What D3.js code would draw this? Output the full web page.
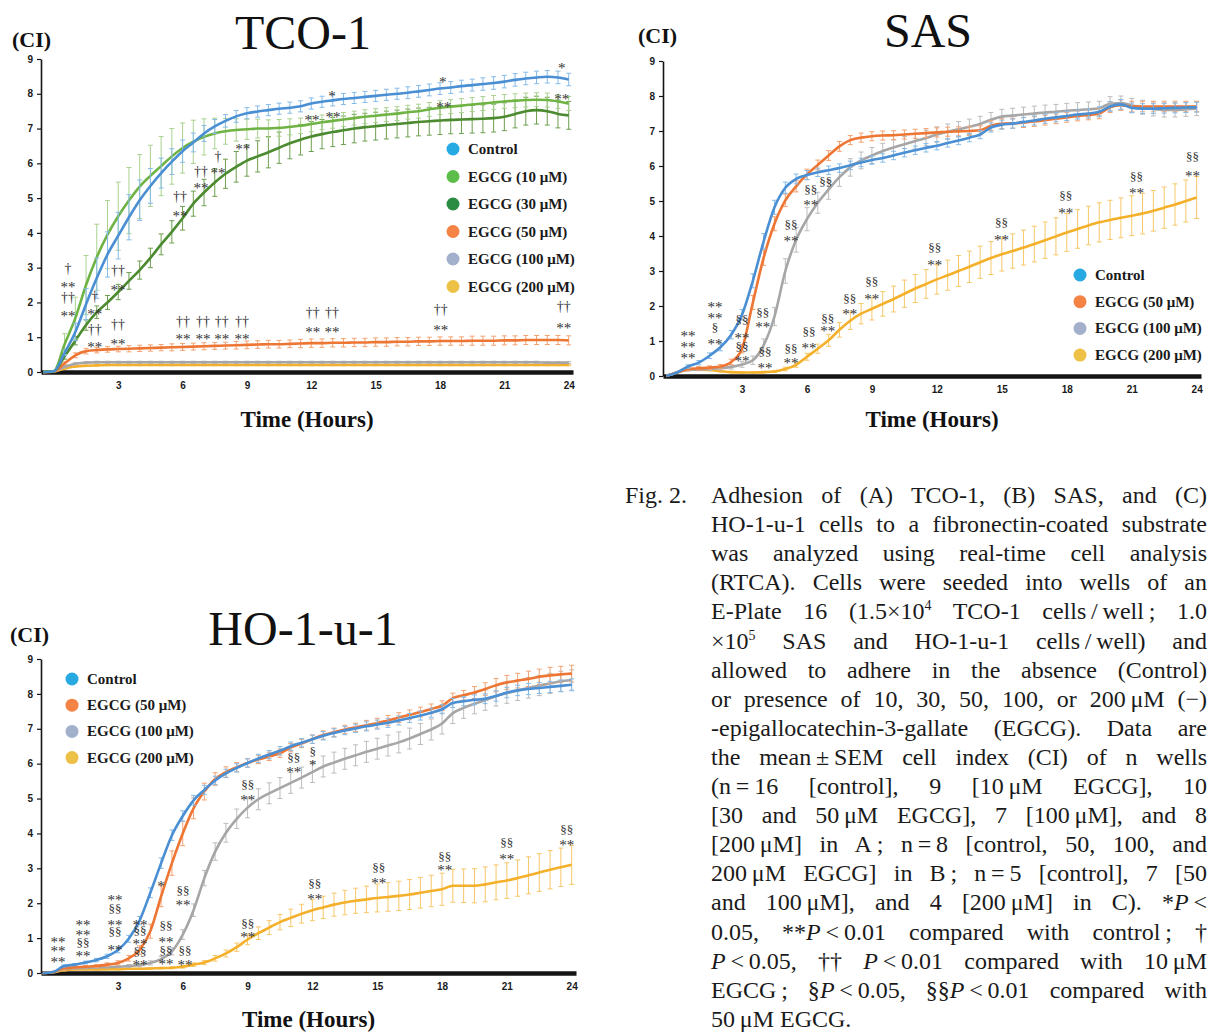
<!DOCTYPE html>
<html>
<head>
<meta charset="utf-8">
<script src="https://cdn.jsdelivr.net/npm/d3@7"></script>
<style>
  body { margin: 0; background: #fff; }
</style>
</head>
<body>
<svg id="fig" width="1212" height="1033"></svg>
<script>
// time points (hours) shared by every RTCA trace
const hours = [-0.5, 0, 0.5, 1, 1.5, 2, 2.5, 3, 3.5, 4,
  4.5, 5, 5.5, 6, 6.5, 7, 7.5, 8, 8.5, 9,
  9.5, 10, 10.5, 11, 11.5, 12, 12.5, 13, 13.5, 14,
  14.5, 15, 15.5, 16, 16.5, 17, 17.5, 18, 18.5, 19,
  19.5, 20, 20.5, 21, 21.5, 22, 22.5, 23, 23.5, 24];
const xTicks = [3, 6, 9, 12, 15, 18, 21, 24];
const yTicks = [0, 1, 2, 3, 4, 5, 6, 7, 8, 9];

// ---- (A) TCO-1 ----
const tcoControl = [0, 0.02, 0.55, 1.15, 1.95, 2.7, 3.38, 3.92, 4.45, 4.94,
  5.35, 5.72, 6.05, 6.35, 6.6, 6.86, 7.06, 7.22, 7.35, 7.44,
  7.49, 7.53, 7.57, 7.6, 7.64, 7.72, 7.77, 7.81, 7.85, 7.88,
  7.91, 7.94, 7.97, 8.0, 8.03, 8.07, 8.11, 8.15, 8.18, 8.22,
  8.25, 8.28, 8.31, 8.35, 8.4, 8.44, 8.47, 8.49, 8.47, 8.41];
const tcoControlSem = [0, 0, 0.08, 0.25, 0.45, 0.58, 0.65, 0.67, 0.65, 0.58,
  0.5, 0.43, 0.37, 0.32, 0.27, 0.23, 0.2, 0.18, 0.17, 0.16,
  0.16, 0.16, 0.16, 0.16, 0.16, 0.16, 0.16, 0.16, 0.16, 0.16,
  0.16, 0.16, 0.16, 0.16, 0.17, 0.17, 0.17, 0.17, 0.17, 0.17,
  0.17, 0.18, 0.18, 0.18, 0.18, 0.18, 0.18, 0.18, 0.18, 0.18];
const tco10 = [0, 0.03, 0.8, 1.55, 2.5, 3.3, 3.95, 4.48, 4.93, 5.33,
  5.64, 5.92, 6.2, 6.44, 6.62, 6.76, 6.86, 6.92, 6.96, 6.98,
  7.0, 7.0, 7.02, 7.05, 7.08, 7.13, 7.18, 7.22, 7.26, 7.3,
  7.34, 7.37, 7.4, 7.43, 7.47, 7.5, 7.55, 7.6, 7.63, 7.66,
  7.69, 7.72, 7.75, 7.78, 7.8, 7.82, 7.83, 7.82, 7.78, 7.72];
const tco10Sem = [0, 0, 0.3, 0.6, 0.85, 0.95, 0.98, 0.98, 0.95, 0.92,
  0.88, 0.85, 0.8, 0.72, 0.62, 0.52, 0.44, 0.37, 0.32, 0.29,
  0.27, 0.25, 0.24, 0.23, 0.22, 0.22, 0.21, 0.21, 0.2, 0.2,
  0.2, 0.2, 0.2, 0.2, 0.2, 0.2, 0.2, 0.2, 0.2, 0.2,
  0.2, 0.2, 0.2, 0.2, 0.2, 0.2, 0.2, 0.2, 0.2, 0.2];
const tco30 = [0, 0.02, 0.45, 0.9, 1.35, 1.72, 2.0, 2.3, 2.62, 2.93,
  3.28, 3.67, 4.03, 4.42, 4.84, 5.16, 5.45, 5.7, 5.9, 6.08,
  6.2, 6.32, 6.45, 6.58, 6.68, 6.77, 6.84, 6.9, 6.95, 7.0,
  7.04, 7.07, 7.1, 7.13, 7.16, 7.19, 7.21, 7.23, 7.25, 7.26,
  7.27, 7.28, 7.3, 7.34, 7.42, 7.5, 7.53, 7.5, 7.42, 7.38];
const tco30Sem = [0, 0, 0.08, 0.12, 0.15, 0.18, 0.2, 0.22, 0.24, 0.26,
  0.28, 0.3, 0.32, 0.34, 0.36, 0.38, 0.4, 0.42, 0.44, 0.45,
  0.45, 0.45, 0.45, 0.45, 0.44, 0.43, 0.42, 0.42, 0.41, 0.41,
  0.4, 0.4, 0.4, 0.4, 0.4, 0.4, 0.4, 0.4, 0.4, 0.4,
  0.4, 0.4, 0.4, 0.4, 0.4, 0.4, 0.4, 0.4, 0.4, 0.4];
const tco50 = [0, 0.02, 0.25, 0.48, 0.6, 0.63, 0.65, 0.66, 0.67, 0.68,
  0.69, 0.7, 0.71, 0.72, 0.73, 0.74, 0.75, 0.76, 0.77, 0.78,
  0.79, 0.8, 0.8, 0.81, 0.82, 0.83, 0.83, 0.84, 0.84, 0.85,
  0.85, 0.86, 0.86, 0.87, 0.87, 0.88, 0.88, 0.89, 0.89, 0.89,
  0.9, 0.9, 0.9, 0.91, 0.91, 0.92, 0.92, 0.92, 0.92, 0.91];
const tco50Sem = [0, 0, 0.04, 0.07, 0.08, 0.08, 0.08, 0.08, 0.09, 0.09,
  0.09, 0.09, 0.1, 0.1, 0.1, 0.1, 0.1, 0.1, 0.11, 0.11,
  0.11, 0.11, 0.11, 0.11, 0.12, 0.12, 0.12, 0.12, 0.12, 0.12,
  0.12, 0.12, 0.12, 0.12, 0.12, 0.12, 0.12, 0.12, 0.12, 0.12,
  0.13, 0.13, 0.13, 0.13, 0.13, 0.13, 0.13, 0.13, 0.13, 0.13];
const tco100 = [0, 0.02, 0.15, 0.24, 0.27, 0.28, 0.28, 0.28, 0.28, 0.28,
  0.28, 0.28, 0.28, 0.28, 0.28, 0.28, 0.28, 0.28, 0.28, 0.28,
  0.28, 0.28, 0.28, 0.28, 0.28, 0.28, 0.28, 0.28, 0.28, 0.28,
  0.28, 0.28, 0.28, 0.28, 0.28, 0.28, 0.28, 0.28, 0.28, 0.28,
  0.28, 0.28, 0.28, 0.28, 0.28, 0.28, 0.28, 0.27, 0.27, 0.27];
const tco100Sem = [0, 0, 0.03, 0.03, 0.03, 0.03, 0.03, 0.03, 0.03, 0.03,
  0.03, 0.03, 0.03, 0.03, 0.03, 0.03, 0.03, 0.03, 0.03, 0.03,
  0.03, 0.03, 0.03, 0.03, 0.03, 0.03, 0.03, 0.03, 0.03, 0.03,
  0.03, 0.03, 0.03, 0.03, 0.03, 0.03, 0.03, 0.03, 0.03, 0.03,
  0.03, 0.03, 0.03, 0.03, 0.03, 0.03, 0.03, 0.03, 0.03, 0.03];
const tco200 = [0, 0.01, 0.1, 0.16, 0.18, 0.19, 0.2, 0.2, 0.2, 0.2,
  0.2, 0.2, 0.2, 0.2, 0.2, 0.2, 0.2, 0.2, 0.2, 0.2,
  0.2, 0.2, 0.2, 0.2, 0.2, 0.2, 0.2, 0.2, 0.2, 0.2,
  0.2, 0.2, 0.2, 0.2, 0.2, 0.2, 0.2, 0.2, 0.2, 0.2,
  0.2, 0.2, 0.2, 0.2, 0.2, 0.2, 0.2, 0.2, 0.2, 0.2];
const tco200Sem = [0, 0, 0.02, 0.02, 0.02, 0.02, 0.02, 0.02, 0.02, 0.02,
  0.02, 0.02, 0.02, 0.02, 0.02, 0.02, 0.02, 0.02, 0.02, 0.02,
  0.02, 0.02, 0.02, 0.02, 0.02, 0.02, 0.02, 0.02, 0.02, 0.02,
  0.02, 0.02, 0.02, 0.02, 0.02, 0.02, 0.02, 0.02, 0.02, 0.02,
  0.02, 0.02, 0.02, 0.02, 0.02, 0.02, 0.02, 0.02, 0.02, 0.02];

// ---- (B) SAS ----
const sasControl = [0, 0.1, 0.27, 0.38, 0.58, 0.82, 1.18, 1.75, 2.72, 3.85,
  4.82, 5.38, 5.63, 5.74, 5.82, 5.88, 5.94, 6.02, 6.1, 6.17,
  6.23, 6.3, 6.38, 6.45, 6.52, 6.58, 6.66, 6.73, 6.81, 6.9,
  7.1, 7.18, 7.21, 7.26, 7.3, 7.35, 7.39, 7.43, 7.47, 7.5,
  7.55, 7.7, 7.76, 7.66, 7.64, 7.64, 7.65, 7.66, 7.67, 7.68];
const sasControlSem = [0, 0, 0.05, 0.06, 0.08, 0.1, 0.12, 0.15, 0.2, 0.22,
  0.2, 0.16, 0.14, 0.13, 0.12, 0.12, 0.12, 0.12, 0.12, 0.12,
  0.12, 0.12, 0.12, 0.12, 0.12, 0.12, 0.12, 0.12, 0.12, 0.12,
  0.13, 0.13, 0.13, 0.13, 0.13, 0.13, 0.13, 0.13, 0.13, 0.13,
  0.14, 0.14, 0.14, 0.14, 0.14, 0.14, 0.14, 0.14, 0.14, 0.14];
const sas50 = [0, 0.1, 0.2, 0.22, 0.24, 0.27, 0.4, 0.78, 2.1, 3.38,
  4.35, 5.02, 5.42, 5.76, 6.03, 6.3, 6.56, 6.74, 6.81, 6.85,
  6.87, 6.88, 6.9, 6.92, 6.94, 6.96, 6.98, 6.99, 7.0, 7.02,
  7.15, 7.21, 7.22, 7.24, 7.27, 7.31, 7.35, 7.39, 7.43, 7.46,
  7.5, 7.68, 7.74, 7.7, 7.7, 7.7, 7.7, 7.7, 7.7, 7.7];
const sas50Sem = [0, 0, 0.05, 0.05, 0.05, 0.06, 0.08, 0.12, 0.2, 0.22,
  0.2, 0.18, 0.16, 0.15, 0.14, 0.14, 0.14, 0.13, 0.13, 0.13,
  0.13, 0.13, 0.13, 0.13, 0.13, 0.13, 0.13, 0.13, 0.13, 0.13,
  0.14, 0.14, 0.14, 0.14, 0.14, 0.14, 0.14, 0.14, 0.14, 0.14,
  0.15, 0.15, 0.15, 0.15, 0.15, 0.15, 0.15, 0.15, 0.15, 0.15];
const sas100 = [0, 0.1, 0.18, 0.19, 0.2, 0.22, 0.26, 0.33, 0.45, 0.88,
  1.7, 3.0, 3.89, 4.48, 4.95, 5.33, 5.68, 5.96, 6.16, 6.3,
  6.43, 6.53, 6.62, 6.71, 6.8, 6.9, 6.98, 7.05, 7.12, 7.2,
  7.32, 7.41, 7.44, 7.47, 7.5, 7.53, 7.55, 7.58, 7.6, 7.62,
  7.65, 7.78, 7.8, 7.73, 7.68, 7.63, 7.6, 7.6, 7.62, 7.64];
const sas100Sem = [0, 0, 0.04, 0.04, 0.04, 0.05, 0.06, 0.08, 0.12, 0.18,
  0.26, 0.35, 0.35, 0.33, 0.3, 0.28, 0.26, 0.25, 0.24, 0.23,
  0.22, 0.22, 0.22, 0.22, 0.22, 0.22, 0.22, 0.22, 0.22, 0.22,
  0.21, 0.21, 0.21, 0.21, 0.21, 0.21, 0.21, 0.21, 0.21, 0.21,
  0.2, 0.2, 0.2, 0.2, 0.2, 0.2, 0.2, 0.2, 0.2, 0.2];
const sas200 = [0, 0.1, 0.18, 0.18, 0.17, 0.14, 0.11, 0.1, 0.1, 0.11,
  0.13, 0.2, 0.32, 0.55, 0.78, 1.02, 1.32, 1.58, 1.78, 1.92,
  2.06, 2.2, 2.35, 2.5, 2.63, 2.76, 2.88, 3.0, 3.12, 3.25,
  3.37, 3.48, 3.57, 3.67, 3.77, 3.88, 3.99, 4.1, 4.2, 4.3,
  4.39, 4.46, 4.52, 4.58, 4.64, 4.72, 4.81, 4.9, 5.0, 5.1];
const sas200Sem = [0, 0, 0.02, 0.02, 0.02, 0.02, 0.02, 0.02, 0.02, 0.02,
  0.03, 0.05, 0.07, 0.1, 0.13, 0.17, 0.21, 0.25, 0.29, 0.32,
  0.35, 0.37, 0.39, 0.4, 0.41, 0.42, 0.43, 0.44, 0.45, 0.46,
  0.47, 0.48, 0.49, 0.5, 0.51, 0.52, 0.53, 0.54, 0.55, 0.55,
  0.56, 0.56, 0.57, 0.57, 0.58, 0.58, 0.59, 0.59, 0.6, 0.6];

// ---- (C) HO-1-u-1 ----
const hoControl = [0, 0.03, 0.2, 0.24, 0.3, 0.37, 0.48, 0.66, 0.98, 1.5,
  2.3, 3.15, 3.95, 4.5, 4.95, 5.25, 5.52, 5.72, 5.88, 6.02,
  6.15, 6.26, 6.37, 6.5, 6.6, 6.7, 6.8, 6.88, 6.95, 7.01,
  7.07, 7.12, 7.17, 7.24, 7.31, 7.38, 7.46, 7.56, 7.74, 7.79,
  7.83, 7.86, 7.94, 8.04, 8.1, 8.14, 8.17, 8.2, 8.23, 8.26];
const hoControlSem = [0, 0, 0.03, 0.03, 0.04, 0.05, 0.06, 0.08, 0.1, 0.12,
  0.14, 0.15, 0.15, 0.15, 0.14, 0.13, 0.12, 0.12, 0.12, 0.12,
  0.12, 0.12, 0.12, 0.12, 0.12, 0.12, 0.12, 0.12, 0.12, 0.12,
  0.13, 0.13, 0.13, 0.13, 0.13, 0.13, 0.13, 0.13, 0.13, 0.13,
  0.14, 0.14, 0.15, 0.15, 0.15, 0.16, 0.16, 0.16, 0.17, 0.17];
const ho50 = [0, 0.03, 0.14, 0.16, 0.18, 0.2, 0.24, 0.29, 0.42, 0.66,
  1.2, 2.2, 3.15, 4.0, 4.72, 5.2, 5.56, 5.76, 5.9, 6.02,
  6.12, 6.21, 6.3, 6.46, 6.58, 6.7, 6.82, 6.9, 6.98, 7.04,
  7.1, 7.16, 7.24, 7.32, 7.4, 7.48, 7.57, 7.66, 7.88, 7.96,
  8.04, 8.14, 8.25, 8.33, 8.38, 8.43, 8.49, 8.53, 8.56, 8.58];
const ho50Sem = [0, 0, 0.03, 0.03, 0.03, 0.04, 0.05, 0.06, 0.08, 0.12,
  0.2, 0.3, 0.35, 0.35, 0.3, 0.24, 0.18, 0.15, 0.13, 0.12,
  0.12, 0.12, 0.12, 0.12, 0.12, 0.12, 0.12, 0.12, 0.12, 0.12,
  0.14, 0.14, 0.14, 0.14, 0.14, 0.14, 0.14, 0.14, 0.14, 0.14,
  0.17, 0.18, 0.19, 0.2, 0.21, 0.22, 0.22, 0.23, 0.23, 0.24];
const ho100 = [0, 0.02, 0.12, 0.14, 0.15, 0.16, 0.17, 0.18, 0.2, 0.23,
  0.29, 0.4, 0.62, 1.1, 1.8, 2.72, 3.48, 4.02, 4.42, 4.74,
  4.98, 5.15, 5.3, 5.45, 5.6, 5.76, 5.92, 6.03, 6.14, 6.24,
  6.34, 6.43, 6.52, 6.61, 6.72, 6.85, 6.98, 7.15, 7.45, 7.6,
  7.72, 7.82, 7.94, 8.02, 8.1, 8.17, 8.24, 8.3, 8.36, 8.4];
const ho100Sem = [0, 0, 0.03, 0.03, 0.03, 0.03, 0.03, 0.03, 0.04, 0.05,
  0.06, 0.08, 0.1, 0.14, 0.18, 0.22, 0.25, 0.27, 0.28, 0.29,
  0.3, 0.3, 0.3, 0.3, 0.3, 0.3, 0.3, 0.3, 0.3, 0.3,
  0.3, 0.3, 0.3, 0.3, 0.3, 0.3, 0.3, 0.3, 0.3, 0.3,
  0.29, 0.29, 0.29, 0.29, 0.29, 0.29, 0.29, 0.29, 0.29, 0.29];
const ho200 = [0, 0.02, 0.08, 0.1, 0.1, 0.1, 0.11, 0.11, 0.12, 0.12,
  0.13, 0.14, 0.15, 0.18, 0.24, 0.3, 0.42, 0.56, 0.74, 0.96,
  1.14, 1.3, 1.46, 1.58, 1.7, 1.8, 1.88, 1.96, 2.02, 2.07,
  2.11, 2.15, 2.18, 2.21, 2.25, 2.3, 2.35, 2.4, 2.5, 2.5,
  2.5, 2.54, 2.6, 2.65, 2.72, 2.8, 2.88, 2.96, 3.03, 3.1];
const ho200Sem = [0, 0, 0.02, 0.02, 0.02, 0.02, 0.02, 0.02, 0.02, 0.02,
  0.02, 0.02, 0.03, 0.04, 0.05, 0.06, 0.08, 0.1, 0.12, 0.15,
  0.18, 0.2, 0.22, 0.25, 0.27, 0.3, 0.32, 0.33, 0.35, 0.36,
  0.38, 0.4, 0.41, 0.42, 0.43, 0.44, 0.45, 0.46, 0.47, 0.48,
  0.49, 0.5, 0.5, 0.51, 0.52, 0.53, 0.54, 0.55, 0.55, 0.56];

// significance marks: [hours, CI, symbol]; consecutive marks at one time form a stack
const tcoMarks = [
  [0.66, 2.98, "†"], [0.66, 2.53, "**"], [0.66, 2.12, "††"], [0.66, 1.68, "**"],
  [1.9, 2.16, "†"], [1.9, 1.73, "**"], [1.9, 1.22, "††"], [1.9, 0.8, "**"],
  [2.99, 2.9, "††"], [2.99, 2.42, "**"], [2.99, 1.37, "††"], [2.99, 0.87, "**"],
  [5.88, 5.03, "††"], [5.88, 4.57, "**"], [6.86, 5.75, "††"], [6.86, 5.35, "**"],
  [7.65, 6.2, "†"], [7.65, 5.8, "**"], [8.81, 6.48, "**"],
  [6.02, 1.44, "††"], [6.02, 1.01, "**"], [6.95, 1.44, "††"], [6.95, 1.01, "**"],
  [7.83, 1.44, "††"], [7.83, 1.01, "**"], [8.77, 1.44, "††"], [8.77, 1.01, "**"],
  [12.96, 8.02, "*"], [18.13, 8.4, "*"], [23.68, 8.8, "*"],
  [12.03, 7.33, "**"], [13.01, 7.39, "**"], [18.18, 7.68, "**"], [23.68, 7.91, "**"],
  [12.07, 1.7, "††"], [12.07, 1.21, "**"], [12.96, 1.7, "††"], [12.96, 1.21, "**"],
  [18.04, 1.78, "††"], [18.04, 1.27, "**"], [23.77, 1.87, "††"], [23.77, 1.35, "**"]
];
const sasMarks = [
  [0.5, 1.22, "**"], [0.5, 0.89, "**"], [0.5, 0.6, "**"],
  [1.75, 2.03, "**"], [1.75, 1.72, "**"], [1.75, 1.36, "§"], [1.75, 1.0, "**"],
  [3.0, 1.6, "§§"], [3.0, 1.17, "**"], [3.0, 0.82, "§§"], [3.0, 0.49, "**"],
  [3.96, 1.8, "§§"], [3.96, 1.46, "**"], [4.06, 0.69, "§§"], [4.06, 0.3, "**"],
  [5.26, 4.3, "§§"], [5.26, 3.93, "**"], [6.18, 5.31, "§§"], [6.18, 4.97, "**"], [6.87, 5.54, "§§"],
  [5.26, 0.78, "§§"], [5.26, 0.45, "**"], [6.09, 1.25, "§§"], [6.09, 0.86, "**"],
  [6.96, 1.64, "§§"], [6.96, 1.36, "**"], [7.98, 2.2, "§§"], [7.98, 1.83, "**"],
  [8.99, 2.67, "§§"], [8.99, 2.26, "**"], [11.9, 3.66, "§§"], [11.9, 3.23, "**"],
  [14.99, 4.37, "§§"], [14.99, 3.97, "**"], [17.95, 5.14, "§§"], [17.95, 4.74, "**"],
  [21.22, 5.69, "§§"], [21.22, 5.29, "**"], [23.81, 6.26, "§§"], [23.81, 5.8, "**"]
];
const hoMarks = [
  [0.23, 0.96, "**"], [0.23, 0.69, "**"], [0.23, 0.4, "**"],
  [1.38, 1.44, "**"], [1.38, 1.15, "**"], [1.38, 0.85, "§§"], [1.38, 0.57, "**"],
  [2.86, 2.15, "**"], [2.86, 1.84, "§§"], [2.86, 1.46, "**"], [2.86, 1.16, "§§"], [2.86, 0.74, "**"],
  [4.02, 1.46, "**"], [4.02, 1.2, "§§"], [4.02, 0.89, "**"], [4.02, 0.6, "§§"], [4.02, 0.31, "**"],
  [4.99, 2.56, "*"],
  [5.22, 1.34, "§§"], [5.22, 0.96, "**"], [5.22, 0.63, "§§"], [5.22, 0.32, "**"],
  [6.01, 2.34, "§§"], [6.01, 2.01, "**"], [6.1, 0.63, "§§"], [6.1, 0.3, "**"],
  [9.01, 5.4, "§§"], [9.01, 5.04, "**"], [9.01, 1.4, "§§"], [9.01, 1.09, "**"],
  [11.14, 6.17, "§§"], [11.14, 5.83, "**"], [12.02, 6.33, "§"], [12.02, 6.02, "*"],
  [12.11, 2.56, "§§"], [12.11, 2.19, "**"], [15.07, 3.01, "§§"], [15.07, 2.66, "**"],
  [18.13, 3.32, "§§"], [18.13, 3.01, "**"], [21.0, 3.72, "§§"], [21.0, 3.35, "**"],
  [23.77, 4.1, "§§"], [23.77, 3.75, "**"]
];

// legend / colour table
const styles = {
  control: { name: "Control",        line: "#4a8fd3", bar: "#86bbe8", dot: "#27a9e1" },
  e10:     { name: "EGCG (10 μM)",   line: "#6fb345", bar: "#a9d28f", dot: "#5dbd4b" },
  e30:     { name: "EGCG (30 μM)",   line: "#4b8a2f", bar: "#6d9f4e", dot: "#2a8b43" },
  e50:     { name: "EGCG (50 μM)",   line: "#ee7634", bar: "#f3a271", dot: "#f58345" },
  e100:    { name: "EGCG (100 μM)",  line: "#a6a6a6", bar: "#bcbcbc", dot: "#a3b0cb" },
  e200:    { name: "EGCG (200 μM)",  line: "#f4b02a", bar: "#f7c768", dot: "#ecc146" }
};

// caption; \u2009 = thin space that is not stretched by the justification
const captionLines = [
  [["Adhesion of (A) TCO-1, (B) SAS, and (C)"]],
  [["HO-1-u-1 cells to a fibronectin-coated substrate"]],
  [["was analyzed using real-time cell analysis"]],
  [["(RTCA). Cells were seeded into wells of an"]],
  [["E-Plate 16 (1.5×10"], ["4", "sup"], [" TCO-1 cells\u2009/\u2009well\u2009; 1.0"]],
  [["×10"], ["5", "sup"], [" SAS and HO-1-u-1 cells\u2009/\u2009well) and"]],
  [["allowed to adhere in the absence (Control)"]],
  [["or presence of 10, 30, 50, 100, or 200\u2009μM (−)"]],
  [["-epigallocatechin-3-gallate (EGCG). Data are"]],
  [["the mean\u2009±\u2009SEM cell index (CI) of n wells"]],
  [["(n\u2009=\u200916 [control], 9 [10\u2009μM EGCG], 10"]],
  [["[30 and 50\u2009μM EGCG], 7 [100\u2009μM], and 8"]],
  [["[200\u2009μM] in A\u2009; n\u2009=\u20098 [control, 50, 100, and"]],
  [["200\u2009μM EGCG] in B\u2009; n\u2009=\u20095 [control], 7 [50"]],
  [["and 100\u2009μM], and 4 [200\u2009μM] in C). *"], ["P", "it"], ["\u2009<"]],
  [["0.05, **"], ["P", "it"], ["\u2009<\u20090.01 compared with control\u2009; †"]],
  [["P", "it"], ["\u2009<\u20090.05, †† "], ["P", "it"], ["\u2009<\u20090.01 compared with 10\u2009μM"]],
  [["EGCG\u2009; §"], ["P", "it"], ["\u2009<\u20090.05, §§"], ["P", "it"], ["\u2009<\u20090.01 compared with"]],
  [["50\u2009μM EGCG."]]
];

const panels = [
  { title: "TCO-1", left: 41, right: 573, xDomain: [-0.6, 24.2], top: 59, bottom: 372,
    titleX: 303, titleY: 49, ciX: 12, ciY: 47, timeY: 427,
    legX: 453, legY: 149, legStep: 27.5, marks: tcoMarks,
    series: [
      { s: styles.control, v: tcoControl, e: tcoControlSem },
      { s: styles.e10, v: tco10, e: tco10Sem },
      { s: styles.e30, v: tco30, e: tco30Sem },
      { s: styles.e50, v: tco50, e: tco50Sem },
      { s: styles.e100, v: tco100, e: tco100Sem },
      { s: styles.e200, v: tco200, e: tco200Sem }] },
  { title: "SAS", left: 663, right: 1201, xDomain: [-0.65, 24.2], top: 61, bottom: 376,
    titleX: 928, titleY: 47, ciX: 638, ciY: 43, timeY: 427,
    legX: 1080, legY: 275, legStep: 26.7, marks: sasMarks,
    series: [
      { s: styles.control, v: sasControl, e: sasControlSem },
      { s: styles.e50, v: sas50, e: sas50Sem },
      { s: styles.e100, v: sas100, e: sas100Sem },
      { s: styles.e200, v: sas200, e: sas200Sem }] },
  { title: "HO-1-u-1", left: 41, right: 576, xDomain: [-0.56, 24.2], top: 659, bottom: 973,
    titleX: 303, titleY: 645, ciX: 10, ciY: 642, timeY: 1027,
    legX: 72, legY: 679, legStep: 26.2, marks: hoMarks,
    series: [
      { s: styles.control, v: hoControl, e: hoControlSem },
      { s: styles.e50, v: ho50, e: ho50Sem },
      { s: styles.e100, v: ho100, e: ho100Sem },
      { s: styles.e200, v: ho200, e: ho200Sem }] }
];

const svg = d3.select("#fig");
const serif = "'Liberation Serif', 'Times New Roman', serif";
const sans = "'Liberation Sans', Arial, sans-serif";

function drawPanel(p) {
  const x = d3.scaleLinear().domain(p.xDomain).range([p.left, p.right]);
  const y = d3.scaleLinear().domain([0, 9]).range([p.bottom, p.top]);
  const g = svg.append("g");

  // thick black time axis with bold hour labels
  const xa = g.append("g")
    .attr("transform", "translate(0," + y(0) + ")")
    .call(d3.axisBottom(x).tickValues(xTicks).tickSize(0).tickSizeOuter(0).tickPadding(10));
  xa.select(".domain").attr("stroke", "#141414").attr("stroke-width", 4.5);
  xa.selectAll("text").attr("font-family", sans).attr("font-weight", "bold")
    .attr("font-size", 10).attr("fill", "#1a1a1a");

  const line = d3.line().x(d => x(d.t)).y(d => y(d.v)).curve(d3.curveMonotoneX);

  // draw bottom series first so Control ends up on top
  p.series.slice().reverse().forEach(ser => {
    const pts = hours.map((t, i) => ({ t: t, v: ser.v[i], e: ser.e[i] }));
    const bars = pts.filter(d => d.e > 0);
    g.append("g").attr("stroke", ser.s.bar).attr("stroke-width", 1).attr("fill", "none")
      .selectAll("path").data(bars).join("path")
      .attr("d", d => {
        const xx = x(d.t), yHi = y(d.v + d.e), yLo = y(d.v - d.e);
        return "M" + xx + "," + yHi + "V" + yLo +
          "M" + (xx - 2.5) + "," + yHi + "H" + (xx + 2.5) +
          "M" + (xx - 2.5) + "," + yLo + "H" + (xx + 2.5);
      });
    g.append("path").datum(pts)
      .attr("fill", "none").attr("stroke", ser.s.line).attr("stroke-width", 2.6)
      .attr("stroke-linejoin", "round").attr("d", line);
  });

  // CI axis
  const ya = g.append("g")
    .attr("transform", "translate(" + p.left + ",0)")
    .call(d3.axisLeft(y).tickValues(yTicks).tickSize(4).tickSizeOuter(0).tickPadding(4));
  ya.select(".domain").attr("stroke", "#141414").attr("stroke-width", 1.6);
  ya.selectAll(".tick line").attr("stroke", "#141414").attr("stroke-width", 1.2);
  ya.selectAll("text").attr("font-family", sans).attr("font-weight", "bold")
    .attr("font-size", 10).attr("fill", "#1a1a1a");

  // significance symbols, one text per stack
  const stacks = [];
  p.marks.forEach(m => {
    const last = stacks[stacks.length - 1];
    if (last && last.t === m[0] && Math.abs(last.items[last.items.length - 1][1] - m[1]) < 0.7) last.items.push(m);
    else stacks.push({ t: m[0], items: [m] });
  });
  const mg = g.append("g").attr("font-family", serif).attr("fill", "#333").attr("text-anchor", "middle");
  stacks.forEach(st => {
    const t = mg.append("text");
    st.items.forEach(m => {
      const star = m[2].indexOf("*") >= 0;
      t.append("tspan")
        .attr("x", x(m[0])).attr("y", y(m[1]))
        .attr("dy", star ? "0.5em" : "0.3em")
        .attr("font-size", star ? 15 : (m[2].indexOf("§") >= 0 ? 13 : 14))
        .text(m[2]);
    });
  });

  // legend
  const lg = g.append("g").attr("transform", "translate(" + p.legX + "," + p.legY + ")");
  p.series.forEach((ser, i) => {
    lg.append("circle").attr("cx", 0).attr("cy", i * p.legStep).attr("r", 6.5).attr("fill", ser.s.dot);
    lg.append("text").attr("x", 15).attr("y", i * p.legStep + 5)
      .attr("font-family", serif).attr("font-weight", "bold").attr("font-size", 15)
      .attr("fill", "#1a1a1a").text(ser.s.name);
  });

  // titles
  g.append("text").attr("x", p.titleX).attr("y", p.titleY).attr("text-anchor", "middle")
    .attr("font-family", serif).attr("font-size", 48).attr("fill", "#111").text(p.title);
  g.append("text").attr("x", p.ciX).attr("y", p.ciY)
    .attr("font-family", serif).attr("font-weight", "bold").attr("font-size", 22)
    .attr("fill", "#111").text("(CI)");
  g.append("text").attr("x", (p.left + p.right) / 2).attr("y", p.timeY).attr("text-anchor", "middle")
    .attr("font-family", serif).attr("font-weight", "bold").attr("font-size", 23)
    .attr("fill", "#111").text("Time (Hours)");
}

panels.forEach(drawPanel);

// figure caption, justified by stretching word spacing
const cap = svg.append("g").attr("font-family", serif).attr("font-size", 24).attr("fill", "#1a1a1a");
cap.append("text").attr("x", 625).attr("y", 503).text("Fig. 2.");
const capLeft = 711, capWidth = 496, capTop = 503, capStep = 29.1;
captionLines.forEach((segs, i) => {
  const t = cap.append("text").attr("x", capLeft).attr("y", capTop + i * capStep);
  let shifted = false;
  segs.forEach(seg => {
    const ts = t.append("tspan").text(seg[0]);
    if (seg[1] === "sup") { ts.attr("font-size", 14).attr("dy", -9); shifted = true; }
    else if (shifted) { ts.attr("dy", 9); shifted = false; }
    if (seg[1] === "it") ts.attr("font-style", "italic");
  });
  if (i < captionLines.length - 1) {
    const full = segs.map(s => s[0]).join("");
    const spaces = (full.match(/ /g) || []).length;
    const natural = t.node().getComputedTextLength();
    if (spaces > 0) t.attr("word-spacing", (capWidth - natural) / spaces);
  }
});
</script>
</body>
</html>
